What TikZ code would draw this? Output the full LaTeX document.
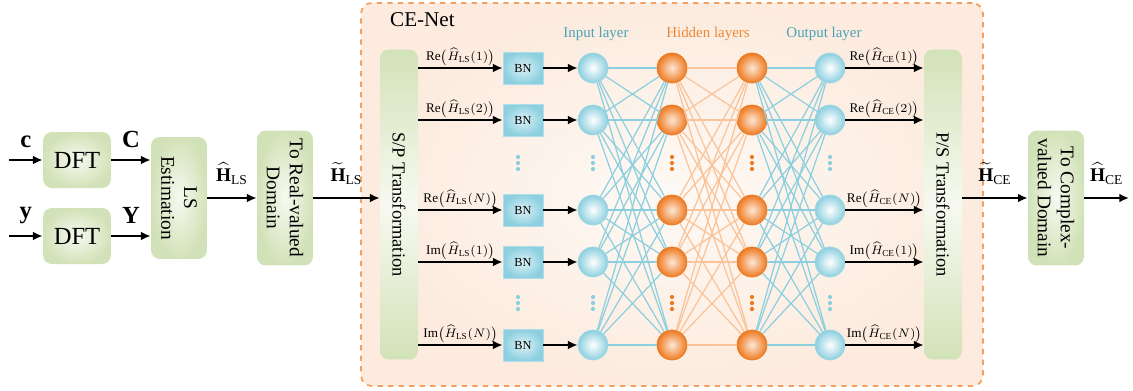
\documentclass[tikz,border=0pt]{standalone}
\usepackage{amsmath, amssymb}
\usepackage{fontspec}
\setmainfont{Liberation Serif}
\usetikzlibrary{arrows.meta, positioning, shapes, calc}
\definecolor{mygreen}{HTML}{D2E2B8}
\definecolor{mylightgreen}{HTML}{F7F9F0}
\definecolor{myblue}{HTML}{8CCFDF}
\definecolor{mylightblue}{HTML}{DDF2F7}
\definecolor{myorange}{HTML}{EE7A20}
\definecolor{mylightorange}{HTML}{F9C49A}
\definecolor{mypeach}{HTML}{FCEBDE}
\definecolor{myteal}{HTML}{4BA2B4}
\definecolor{mydash}{HTML}{F4A060}
\tikzset{
  >=latex,
  % blocchi di elaborazione
  block/.style={rounded corners=5pt,inner color=mylightgreen,outer color=mygreen,
    align=center,font=\fontsize{11}{13}\selectfont},
  dft block/.style={block,font=\fontsize{14}{16}\selectfont},
  bar block/.style={rounded corners=5pt,top color=mygreen,bottom color=mygreen,
    middle color=mylightgreen,font=\fontsize{10.5}{12.5}\selectfont},
  bn/.style={inner color=mylightblue,outer color=myblue,draw=myblue!70,
    minimum width=0.8cm,minimum height=0.64cm,font=\fontsize{7}{8}\selectfont},
  % neuroni
  neuron/.style={circle,minimum size=0.6cm,inner sep=0pt},
  neuron blue/.style={neuron,inner color=white,outer color=myblue,draw=myblue!80},
  neuron orange/.style={neuron,inner color=mylightorange!40,outer color=myorange,draw=myorange},
  % connessioni
  connect blue/.style={myblue,line width=0.7pt},
  connect orange/.style={mylightorange,line width=0.7pt},
  arr/.style={-{Latex[length=5.5pt,width=5pt]},line width=1.1pt},
  lab/.style={font=\fontsize{7.5}{9}\selectfont,inner sep=1pt},
  sig/.style={font=\fontsize{14}{16}\selectfont\bfseries,above=3pt},
  hlab/.style={above=4pt,font=\fontsize{11}{13}\selectfont},
  title/.style={font=\fontsize{8.5}{10}\selectfont}
}
\begin{document}
\begin{tikzpicture}[x=0.02cm,y=-0.02cm]
  \useasboundingbox (0,0) rectangle (1133,390);

  % riquadro CE-Net
  \node[draw=mydash,dashed,line width=1pt,rounded corners=6pt,inner color=white!70!mypeach,
    outer color=mypeach,minimum width=12.44cm,minimum height=7.66cm] (cenet) at (672,194.5) {};
  \node[anchor=west,font=\fontsize{12}{14}\selectfont] (cetitle) at (384,20) {CE-Net};
  \node[title,myteal] (tin) at (596,34) {Input layer};
  \node[title,myorange!90] (thid) at (708,34) {Hidden layers};
  \node[title,myteal] (tout) at (824,34) {Output layer};

  % blocchi a sinistra
  \coordinate (cin) at (9,160);
  \coordinate (yin) at (9,236);
  \node[dft block,minimum width=1.36cm,minimum height=1.12cm] (dft1) at (77,160) {DFT};
  \node[dft block,minimum width=1.36cm,minimum height=1.12cm] (dft2) at (77,236) {DFT};
  \node[block,rotate=-90,minimum width=2.44cm,minimum height=1.12cm] (ls) at (179,198) {LS\\Estimation};
  \node[block,rotate=-90,minimum width=2.7cm,minimum height=1.12cm] (real) at (285,198) {To Real-valued\\Domain};
  \node[bar block,rotate=-90,minimum width=6.2cm,minimum height=0.76cm] (sp) at (399,204.5) {S/P Transformation};
  \node[bar block,rotate=-90,minimum width=6.2cm,minimum height=0.76cm] (ps) at (943,204.5) {P/S Transformation};
  \node[block,rotate=-90,minimum width=2.7cm,minimum height=1.12cm] (cplx) at (1056,198) {To Complex-\\valued Domain};
  \coordinate (hout) at (1129,198);

  \draw[arr] (cin) -- (dft1) node[midway,sig] {c};
  \draw[arr] (yin) -- (dft2) node[midway,sig] {y};
  \draw[arr] (dft1) -- (ls.south |- dft1) node[midway,sig] {C};
  \draw[arr] (dft2) -- (ls.south |- dft2) node[midway,sig] {Y};
  \draw[arr] (ls) -- (real) node[midway,hlab] {$\widehat{\mathbf{H}}_{\mathrm{LS}}$};
  \draw[arr] (real) -- (sp.south |- real) node[midway,hlab] {$\widetilde{\mathbf{H}}_{\mathrm{LS}}$};
  \draw[arr] (ps.north |- cplx) -- (cplx) node[midway,hlab] {$\widetilde{\mathbf{H}}_{\mathrm{CE}}$};
  \draw[arr] (cplx) -- (hout) node[midway,hlab] {$\widehat{\mathbf{H}}_{\mathrm{CE}}$};

  % rete neurale
  \foreach \y [count=\i] in {68,120,210,262,345} {
    \node[bn] (bn\i) at (523,\y) {BN};
    \node[neuron blue] (in\i) at (593,\y) {};
    \node[neuron orange] (ha\i) at (672,\y) {};
    \node[neuron orange] (hb\i) at (752,\y) {};
    \node[neuron blue] (out\i) at (830,\y) {};
    \draw[arr] (bn\i) -- (in\i);
  }
  \foreach \i in {1,...,5}
    \foreach \j in {1,...,5} {
      \draw[connect blue] (in\i) -- (ha\j);
      \draw[connect orange] (ha\i) -- (hb\j);
      \draw[connect blue] (hb\i) -- (out\j);
    }

  % ingressi e uscite
  \foreach \i/\part/\k in {1/Re/1,2/Re/2,3/Re/N,4/Im/1,5/Im/N} {
    \draw[arr] (sp.north |- bn\i) -- (bn\i)
      node[midway,above,lab] {$\mathrm{\part}\big(\widehat{H}_{\mathrm{LS}}(\k)\big)$};
    \draw[arr] (out\i) -- (ps.south |- out\i)
      node[midway,above,lab] {$\mathrm{\part}\big(\widehat{H}_{\mathrm{CE}}(\k)\big)$};
  }

  % puntini
  \foreach \x/\c in {518/myblue,593/myblue,672/myorange,752/myorange,830/myblue}
    \foreach \yd in {163,303}
      \foreach \k in {-6,0,6}
        \fill[\c] (\x,{\yd+\k}) circle (1.2pt);
\end{tikzpicture}
\end{document}
